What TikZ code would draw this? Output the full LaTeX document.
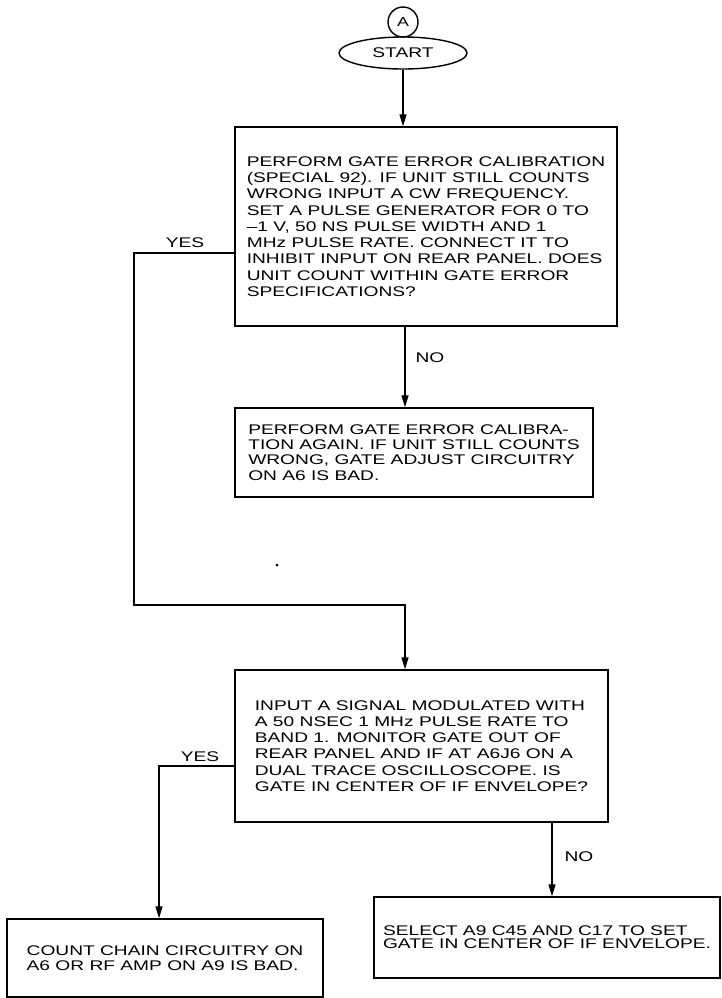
\documentclass[tikz,border=0pt]{standalone}
\usepackage{fontspec}
\setmainfont{Liberation Sans}[FakeStretch=1.37]
\usetikzlibrary{arrows.meta,shapes.geometric}
\tikzset{
  box/.style={draw, line width=1.4pt, align=left, inner sep=0pt},
  conn/.style={line width=1.4pt},
  arr/.style={line width=1.4pt, -{Triangle[length=12pt,width=7pt]}},
  lbl/.style={font=\fontsize{14}{16}\selectfont, inner sep=0pt},
}
\begin{document}
\begin{tikzpicture}[x=1pt,y=-1pt]
\useasboundingbox (0,0) rectangle (722,998);
% start
\node[draw, line width=1.4pt, circle, minimum size=30pt, inner sep=0pt, font=\fontsize{13}{14}\selectfont] (a) at (403,22) {A};
\node[draw, line width=1.4pt, ellipse, minimum width=128pt, minimum height=32pt, inner sep=0pt, font=\fontsize{14}{16}\selectfont] (start) at (403,53) {START};
% boxes
\node[box, minimum width=382pt, minimum height=199pt, font=\fontsize{14}{16.3}\selectfont] (b1) at (426,226.5) {PERFORM GATE ERROR CALIBRATION\\(SPECIAL 92). IF UNIT STILL COUNTS\\WRONG INPUT A CW FREQUENCY.\\SET A PULSE GENERATOR FOR 0 TO\\–1 V, 50 NS PULSE WIDTH AND 1\\MHz PULSE RATE. CONNECT IT TO\\INHIBIT INPUT ON REAR PANEL. DOES\\UNIT COUNT WITHIN GATE ERROR\\SPECIFICATIONS?};
\node[box, minimum width=358pt, minimum height=89pt, font=\fontsize{14}{15.3}\selectfont] (b2) at (414,452.5) {PERFORM GATE ERROR CALIBRA-\\TION AGAIN. IF UNIT STILL COUNTS\\WRONG, GATE ADJUST CIRCUITRY\\ON A6 IS BAD.};
\node[box, minimum width=373pt, minimum height=152pt, font=\fontsize{14}{16.2}\selectfont] (b3) at (421.5,746) {INPUT A SIGNAL MODULATED WITH\\A 50 NSEC 1 MHz PULSE RATE TO\\BAND 1. MONITOR GATE OUT OF\\REAR PANEL AND IF AT A6J6 ON A\\DUAL TRACE OSCILLOSCOPE. IS\\GATE IN CENTER OF IF ENVELOPE?};
\node[box, minimum width=316pt, minimum height=78pt, font=\fontsize{14}{15}\selectfont] (b4) at (165,958) {COUNT CHAIN CIRCUITRY ON\\A6 OR RF AMP ON A9 IS BAD.};
\node[box, minimum width=346pt, minimum height=81pt, font=\fontsize{14}{13.2}\selectfont] (b5) at (547,937.5) {SELECT A9 C45 AND C17 TO SET\\GATE IN CENTER OF IF ENVELOPE.};
% helper coordinates
\coordinate (v1) at (405,0);
\coordinate (y1) at (134,253);
\coordinate (c1) at (134,605);
\coordinate (c2) at (405,605);
\coordinate (y2) at (159,766);
\coordinate (v2) at (552,0);
% connectors
\draw[arr] (start.south) -- (start.south |- b1.north);
\draw[arr] (v1 |- b1.south) -- (v1 |- b2.north);
\draw[arr] (b1.west |- y1) -- (y1) -- (c1) -- (c2) -- (c2 |- b3.north);
\draw[arr] (b3.west |- y2) -- (y2) -- (y2 |- b4.north);
\draw[arr] (v2 |- b3.south) -- (v2 |- b5.north);
% labels
\node[lbl] (yes1) at (185,243) {YES};
\node[lbl] (no1) at (430,358) {NO};
\node[lbl] (yes2) at (200,757) {YES};
\node[lbl] (no2) at (579,857) {NO};
% stray dot
\fill (277,565) circle (1.5pt);
\end{tikzpicture}
\end{document}
